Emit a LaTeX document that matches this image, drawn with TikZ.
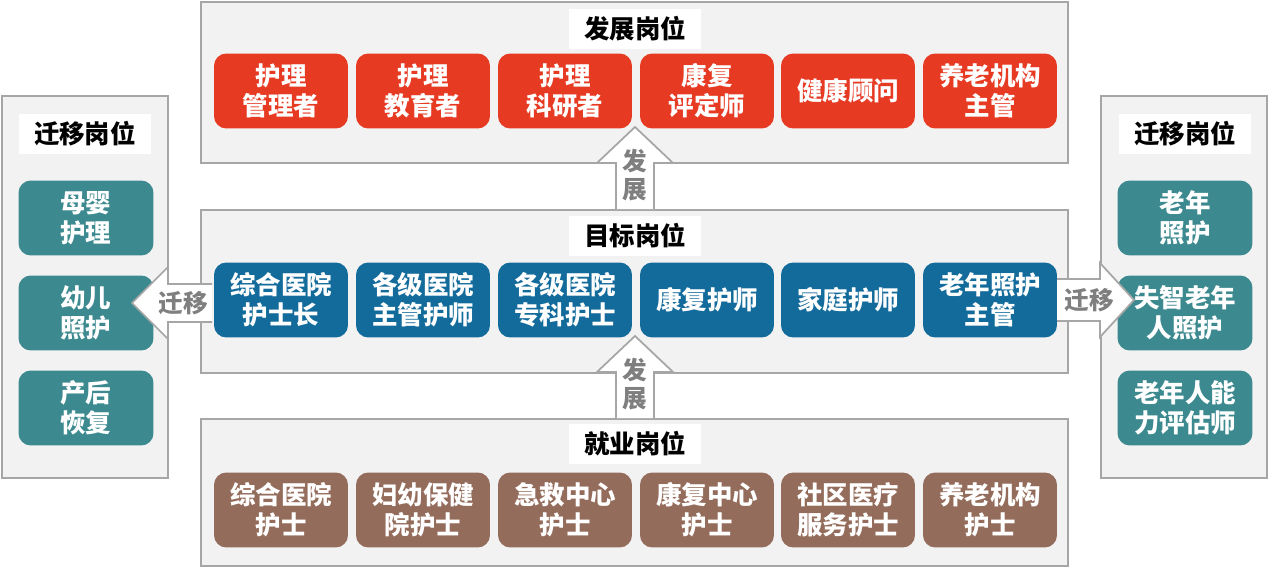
\documentclass[tikz,border=0pt]{standalone}
\usepackage{fontspec}
\setmainfont{Noto Sans CJK SC}
\usepackage{tikz}
\usetikzlibrary{positioning}
\definecolor{panelgray}{HTML}{F2F2F2}
\definecolor{edgegray}{HTML}{A6A6A6}
\definecolor{jobred}{HTML}{E73A23}
\definecolor{jobblue}{HTML}{136B9B}
\definecolor{jobbrown}{HTML}{946C5B}
\definecolor{jobteal}{HTML}{3C8A8F}
\definecolor{arrowtext}{HTML}{7F7F7F}

\begin{document}
\begin{tikzpicture}[x=0.02cm,y=-0.02cm,
  panel/.style={draw=edgegray,fill=panelgray,line width=1.5pt},
  title/.style={fill=white,minimum width=2.64cm,minimum height=0.8cm,font=\fontsize{14.5}{17}\selectfont\bfseries},
  post/.style={rounded corners=7pt,minimum width=2.68cm,minimum height=1.5cm,align=center,text=white,
    font=\fontsize{14.5}{17}\selectfont\bfseries},
  side/.style={post,minimum width=2.7cm},
  blockarrow/.style={draw=edgegray,fill=white,line width=1pt},
  arrowlabel/.style={text=arrowtext,align=center,font=\fontsize{14}{16}\selectfont\bfseries}]
\useasboundingbox (0,0) rectangle (1269,568);
% panels
\draw[panel] (201,2) rectangle (1068,163);
\draw[panel] (201,210) rectangle (1068,373);
\draw[panel] (201,419) rectangle (1068,566);
\draw[panel] (2,96) rectangle (168,478);
\draw[panel] (1101,96) rectangle (1267,478);
% titles
\node[title] (devtitle) at (635,29) {发展岗位};
\node[title] (goaltitle) at (635,236) {目标岗位};
\node[title] (worktitle) at (635,444) {就业岗位};
\node[title] (lefttitle) at (85,134) {迁移岗位};
\node[title] (righttitle) at (1185,134) {迁移岗位};
% development posts
\node[post,fill=jobred] (dev1) at (281,91) {护理\\管理者};
\node[post,fill=jobred] (dev2) at (423,91) {护理\\教育者};
\node[post,fill=jobred] (dev3) at (565,91) {护理\\科研者};
\node[post,fill=jobred] (dev4) at (707,91) {康复\\评定师};
\node[post,fill=jobred] (dev5) at (848,91) {健康顾问};
\node[post,fill=jobred] (dev6) at (990,91) {养老机构\\主管};
% goal posts
\node[post,fill=jobblue] (goal1) at (281,300) {综合医院\\护士长};
\node[post,fill=jobblue] (goal2) at (423,300) {各级医院\\主管护师};
\node[post,fill=jobblue] (goal3) at (565,300) {各级医院\\专科护士};
\node[post,fill=jobblue] (goal4) at (707,300) {康复护师};
\node[post,fill=jobblue] (goal5) at (848,300) {家庭护师};
\node[post,fill=jobblue] (goal6) at (990,300) {老年照护\\主管};
% entry posts
\node[post,fill=jobbrown] (work1) at (281,510) {综合医院\\护士};
\node[post,fill=jobbrown] (work2) at (423,510) {妇幼保健\\院护士};
\node[post,fill=jobbrown] (work3) at (565,510) {急救中心\\护士};
\node[post,fill=jobbrown] (work4) at (707,510) {康复中心\\护士};
\node[post,fill=jobbrown] (work5) at (848,510) {社区医疗\\服务护士};
\node[post,fill=jobbrown] (work6) at (990,510) {养老机构\\护士};
% transfer posts
\node[side,fill=jobteal] (left1) at (86,218) {母婴\\护理};
\node[side,fill=jobteal] (left2) at (86,313) {幼儿\\照护};
\node[side,fill=jobteal] (left3) at (86,408) {产后\\恢复};
\node[side,fill=jobteal] (right1) at (1185,218) {老年\\照护};
\node[side,fill=jobteal] (right2) at (1185,313) {失智老年\\人照护};
\node[side,fill=jobteal] (right3) at (1185,408) {老年人能\\力评估师};
% block arrows
\draw[blockarrow] (616,209) -- (616,163) -- (597,163) -- (635,127) -- (673,163) -- (654,163) -- (654,209);
\node[arrowlabel] (devup) at (635,175) {发\\展};
\draw[blockarrow] (616,418) -- (616,372) -- (597,372) -- (635,336) -- (673,372) -- (654,372) -- (654,418);
\node[arrowlabel] (goalup) at (635,384) {发\\展};
\draw[blockarrow] (212,284) -- (168,284) -- (168,267) -- (132,303) -- (168,339) -- (168,322) -- (212,322);
\node[arrowlabel] (leftmove) at (183,303) {迁移};
\draw[blockarrow] (1057,279) -- (1100,279) -- (1100,263) -- (1134,300) -- (1100,337) -- (1100,321) -- (1057,321);
\node[arrowlabel] (rightmove) at (1089,300) {迁移};
\end{tikzpicture}
\end{document}
